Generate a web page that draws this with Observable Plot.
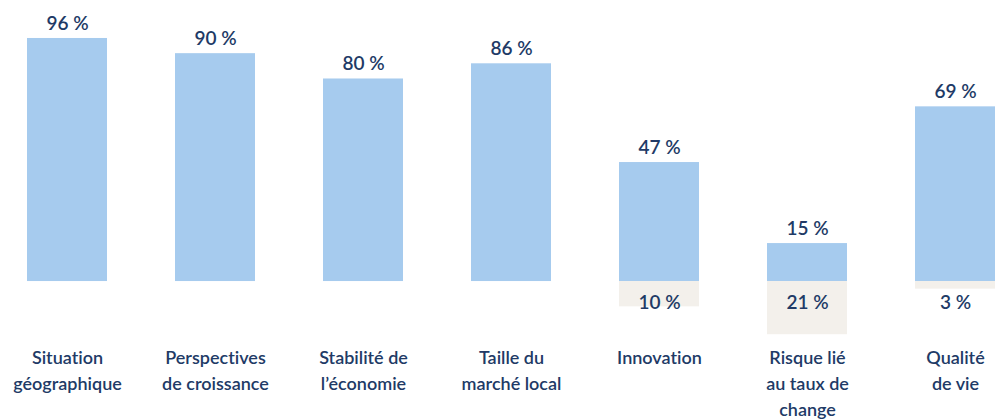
<!DOCTYPE html>
<html>
<head>
<meta charset="utf-8">
<script src="https://cdn.jsdelivr.net/npm/d3@7"></script>
<script src="https://cdn.jsdelivr.net/npm/@observablehq/plot@0.6"></script>
<style>
  html, body { margin: 0; padding: 0; background: #ffffff; }
  #chart svg { display: block; }
  #chart svg text { font-variant-ligatures: none; font-feature-settings: "liga" 0, "clig" 0; }
</style>
</head>
<body>
<div id="chart"></div>
<script>
const categories = [
  "Situation\ngéographique",
  "Perspectives\nde croissance",
  "Stabilité de\nl’économie",
  "Taille du\nmarché local",
  "Innovation",
  "Risque lié\nau taux de\nchange",
  "Qualité\nde vie"
];
const positive = [96, 90, 80, 86, 47, 15, 69];
const negative = [null, null, null, null, 10, 21, 3];

const pos = categories.map((c, i) => ({cat: c, value: positive[i]}));
const neg = categories
  .map((c, i) => ({cat: c, value: negative[i]}))
  .filter(d => d.value != null);

const textColor = "#213a66";
const font = "Lato, 'Open Sans', sans-serif";

const chart = Plot.plot({
  width: 996,
  height: 420,
  marginLeft: 26,
  marginRight: 1,
  marginTop: 0,
  marginBottom: 70.6,
  style: {fontFamily: font, color: textColor, background: "#ffffff"},
  x: {domain: categories, paddingInner: 0.46, paddingOuter: 0, label: null},
  y: {domain: [-27, 111], axis: null},
  marks: [
    Plot.barY(pos, {x: "cat", y: "value", fill: "#a6cbee"}),
    Plot.barY(neg, {x: "cat", y: d => -d.value, fill: "#f3f0eb"}),
    Plot.text(pos, {
      x: "cat", y: "value", dy: -15,
      text: d => `${d.value} %`,
      fill: textColor, fontSize: 19, fontWeight: 600
    }),
    Plot.text(neg, {
      x: "cat", y: 0, dy: 21,
      text: d => `${d.value} %`,
      fill: textColor, fontSize: 19, fontWeight: 600
    }),
    Plot.axisX({
      tickSize: 0, tickPadding: -4, fontSize: 18, fontWeight: 600,
      lineHeight: 1.44, fill: textColor, label: null
    })
  ]
});
document.getElementById("chart").append(chart);
</script>
</body>
</html>
